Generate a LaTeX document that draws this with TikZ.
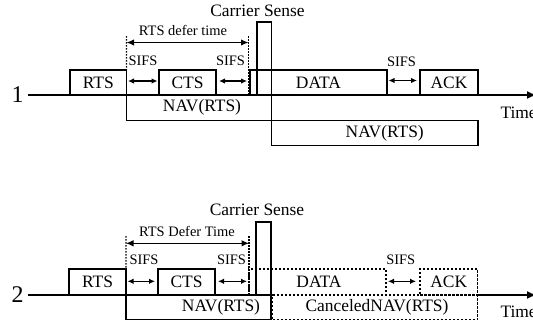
\documentclass[tikz,border=0pt]{standalone}
\usepackage{fontspec}
\setmainfont{Liberation Serif}
\usetikzlibrary{arrows.meta}
\newcommand{\fsbox}{\fontsize{17.5}{19}\selectfont}
\newcommand{\fssmall}{\fontsize{14.5}{16}\selectfont}
\newcommand{\fsbig}{\fontsize{24}{26}\selectfont}
\tikzset{
  every node/.style={inner sep=0pt, outer sep=0pt},
  lw/.style={line width=1.1bp},
  box/.style={draw, lw, font=\fsbox, inner sep=0pt},
  dbox/.style={box, dash pattern=on 2.4bp off 1.6bp},
  guide/.style={lw, dash pattern=on 1.6bp off 1.4bp},
  lbl/.style={font=\fsbox},
  slbl/.style={font=\fssmall},
  sifsarrow/.style={lw, {Latex[length=6bp,width=5.5bp]}-{Latex[length=6bp,width=5.5bp]}},
  deferarrow/.style={lw, {Latex[length=7.5bp,width=6.5bp]}-{Latex[length=7.5bp,width=6.5bp]}},
  timearrow/.style={lw, -{Latex[length=9bp,width=8bp]}}
}
\begin{document}
\begin{tikzpicture}[x=1bp, y=-1bp]
\useasboundingbox (0,0) rectangle (533,321);

% ================= Scenario 1 =================
\node[font=\fsbig] (n1) at (17.5,95) {1};
\coordinate (t1s) at (28,95);
\coordinate (t1e) at (536,95);
\draw[timearrow] (t1s) -- (t1e);
\node[lbl, anchor=west] (time1) at (500.5,112.5) {Time};

\node[box, minimum width=56.5bp, minimum height=25bp] (rts1) at (98.25,82.5) {RTS};
\node[box, minimum width=57bp, minimum height=25bp] (cts1) at (187.5,82.5) {CTS};
\node[box, minimum width=137bp, minimum height=25bp] (data1) at (318.5,82.5) {DATA};
\node[box, minimum width=58bp, minimum height=25bp] (ack1) at (449,82.5) {ACK};
\node[box, minimum width=14.5bp, minimum height=73bp] (cs1) at (264.25,58.5) {};
\node[box, minimum width=145bp, minimum height=25.5bp] (nav1a) at (199,107.75) {\hspace*{6bp}NAV(RTS)};
\node[box, minimum width=206.5bp, minimum height=25bp] (nav1b) at (374.75,133) {\hspace*{20bp}NAV(RTS)};

\node[lbl] (csl1) at (257.5,11) {Carrier Sense};

\coordinate (g1a) at (126.5,36);
\coordinate (g1b) at (248.5,36);
\coordinate (g1c) at (248.5,95);
\coordinate (d1a) at (126.5,42.5);
\coordinate (d1b) at (248.5,42.5);
\draw[guide] (g1a) -- (rts1.north east);
\draw[guide] (g1b) -- (g1c);
\draw[deferarrow] (d1a) -- (d1b);
\node[slbl] (def1) at (183,30) {RTS defer time};

\node[slbl] (s1a) at (143,61) {SIFS};
\node[slbl] (s1b) at (230.5,61) {SIFS};
\node[slbl] (s1c) at (401.5,62) {SIFS};
\draw[sifsarrow] ([xshift=1.5bp,yshift=1.5bp]rts1.east) -- ([xshift=-1.5bp,yshift=1.5bp]cts1.west);
\draw[sifsarrow] ([xshift=3bp,yshift=1.5bp]cts1.east) -- ([xshift=-1.5bp,yshift=1.5bp]g1c |- cts1.west);
\draw[sifsarrow] ([xshift=1.5bp,yshift=2bp]data1.east) -- ([xshift=-3bp,yshift=2bp]ack1.west);

% ================= Scenario 2 =================
\node[font=\fsbig] (n2) at (17.5,295) {2};
\coordinate (t2s) at (28,295);
\coordinate (t2m) at (272.5,295);
\coordinate (t2n) at (477.5,295);
\coordinate (t2e) at (536,295);
\draw[lw] (t2s) -- (t2m);
\draw[timearrow] (t2n) -- (t2e);
\node[lbl, anchor=west] (time2) at (500.5,312) {Time};

\node[box, minimum width=57bp, minimum height=26bp] (rts2) at (97.5,282) {RTS};
\node[box, minimum width=57bp, minimum height=26bp] (cts2) at (186.5,282) {CTS};
\node[dbox, minimum width=137bp, minimum height=26bp] (data2) at (317.5,282) {\hspace*{3bp}DATA};
\node[dbox, minimum width=57.5bp, minimum height=26bp] (ack2) at (448.75,282) {ACK};
\node[box, minimum width=15bp, minimum height=73bp] (cs2) at (263.5,258.5) {};
\node[box, minimum width=145bp, minimum height=24.5bp] (nav2a) at (198.5,307.25) {\hspace*{45bp}NAV(RTS)};
\node[dbox, minimum width=205bp, minimum height=24.5bp] (nav2b) at (375,307.25) {\hspace*{4bp}CanceledNAV(RTS)};

\node[lbl] (csl2) at (257,210) {Carrier Sense};

\coordinate (g2a) at (126,236);
\coordinate (g2b) at (249,236);
\coordinate (g2c) at (249,295);
\coordinate (d2a) at (126,243.3);
\coordinate (d2b) at (249,243.3);
\draw[guide] (g2a) -- (rts2.north east);
\draw[guide] (g2b) -- (g2c);
\draw[deferarrow] (d2a) -- (d2b);
\node[slbl] (def2) at (187,231) {RTS Defer Time};

\node[slbl] (s2a) at (144,260) {SIFS};
\node[slbl] (s2b) at (231.5,260) {SIFS};
\node[slbl] (s2c) at (400.8,260) {SIFS};
\draw[sifsarrow] ([xshift=1.5bp,yshift=0.7bp]rts2.east) -- ([xshift=-3bp,yshift=0.7bp]cts2.west);
\draw[sifsarrow] ([xshift=3bp,yshift=0.7bp]cts2.east) -- ([xshift=-2bp,yshift=0.7bp]g2c |- cts2.west);
\draw[sifsarrow] ([xshift=2bp,yshift=0.7bp]data2.east) -- ([xshift=-4bp,yshift=0.7bp]ack2.west);
\end{tikzpicture}
\end{document}
